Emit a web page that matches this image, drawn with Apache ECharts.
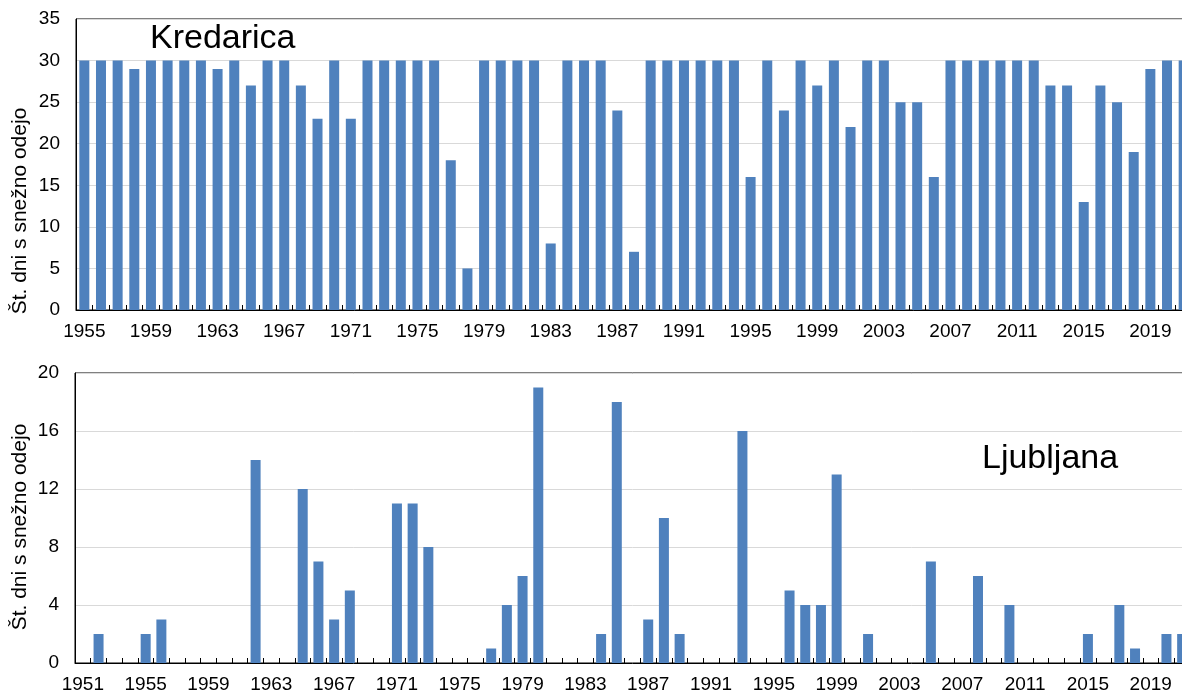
<!DOCTYPE html>
<html>
<head>
<meta charset="utf-8">
<script src="https://cdn.jsdelivr.net/npm/echarts@6/dist/echarts.min.js"></script>
<style>
html,body{margin:0;padding:0;background:#fff;overflow:hidden;width:1182px;height:695px;}
#c{width:1192px;height:695px;}
</style>
</head>
<body>
<div id="c"></div>
<script>
// Kredarica: years 1955..2021
const kredYears = [];
for (let y = 1955; y <= 2021; y++) kredYears.push(String(y));
const kredValues = [30,30,30,29,30,30,30,30,29,30,27,30,30,27,23,30,23,30,30,30,
                    30,30,18,5,30,30,30,30,8,30,30,30,24,7,30,30,30,30,30,30,
                    16,30,24,30,27,30,22,30,30,25,25,16,30,30,30,30,30,30,27,27,
                    13,27,25,19,29,30,30];
// Ljubljana: years 1951..2021
const ljYears = [];
for (let y = 1951; y <= 2021; y++) ljYears.push(String(y));
const ljValues = [0,2,0,0,2,3,0,0,0,0,0,14,0,0,12,7,3,5,0,0,
                  11,11,8,0,0,0,1,4,6,19,0,0,0,2,18,0,3,10,2,0,
                  0,0,16,0,0,5,4,4,13,0,2,0,0,0,7,0,0,6,0,4,
                  0,0,0,0,2,0,4,1,0,2,2];
const kredTicks = [0,5,10,15,20,25,30,35];
const ljTicks = [0,4,8,12,16,20];
const yName = 'Št. dni s snežno odejo';

const FONT = '"Liberation Sans", Arial, sans-serif';
const chart = echarts.init(document.getElementById('c'), null, {renderer:'canvas', width:1192, height:695});

function xAxisCfg(data, idx){
  return {
    type:'category', gridIndex: idx, data: data, boundaryGap:true,
    axisLine:{show:true, lineStyle:{color:'#000', width:1}},
    axisTick:{show:true, inside:true, length:5, interval:0, lineStyle:{color:'#000'}},
    axisLabel:{interval:3, color:'#000', fontSize:19, fontFamily:FONT, margin:12},
    splitLine:{show:false}
  };
}
function yAxisCfg(max, interval, idx){
  return {
    type:'value', gridIndex: idx, min:0, max:max, interval:interval,
    axisLine:{show:true, lineStyle:{color:'#000', width:1}},
    axisTick:{show:false},
    axisLabel:{color:'#000', fontSize:19, fontFamily:FONT, margin:16},
    splitLine:{show:true, lineStyle:{color:'#d9d9d9', width:1}}
  };
}

chart.setOption({
  animation:false,
  backgroundColor:'#fff',
  grid:[
    {left:76, top:19, right:0, bottom:385, show:true, borderColor:'#000', borderWidth:1, containLabel:false},
    {left:75, top:373, right:2, bottom:32, show:true, borderColor:'#000', borderWidth:1, containLabel:false}
  ],
  xAxis:[xAxisCfg(kredYears,0), xAxisCfg(ljYears,1)],
  yAxis:[yAxisCfg(35,5,0), yAxisCfg(20,4,1)],
  series:[
    {type:'bar', xAxisIndex:0, yAxisIndex:0, data:kredValues, barWidth:10,
     itemStyle:{color:'#4f81bd'}},
    {type:'bar', xAxisIndex:1, yAxisIndex:1, data:ljValues, barWidth:10,
     itemStyle:{color:'#4f81bd'}}
  ],
  graphic:[
    {type:'text', left:150, top:22, style:{text:'Kredarica', font:'34px '+FONT, fill:'#000'}},
    {type:'text', left:982, top:442, style:{text:'Ljubljana', font:'34px '+FONT, fill:'#000'}},
    {type:'text', x:20, y:211, rotation:Math.PI/2,
     style:{text:yName, font:'21px '+FONT, fill:'#000', align:'center', verticalAlign:'middle'}},
    {type:'text', x:20, y:527, rotation:Math.PI/2,
     style:{text:yName, font:'21px '+FONT, fill:'#000', align:'center', verticalAlign:'middle'}}
  ]
});
</script>
</body>
</html>
